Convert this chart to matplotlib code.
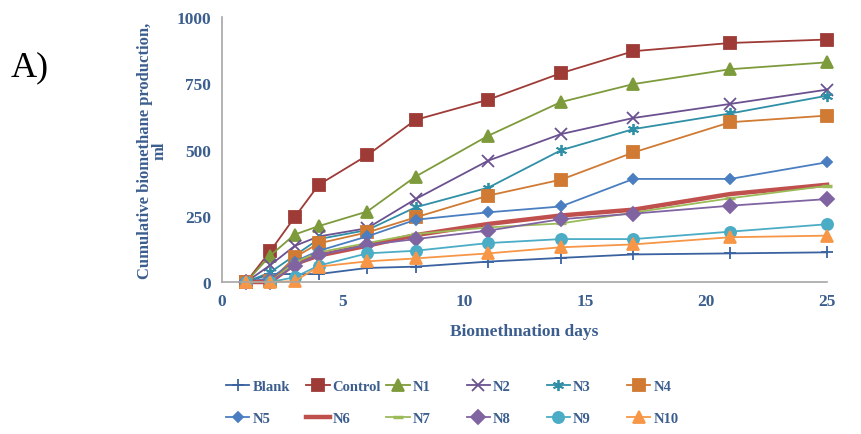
import numpy as np
import matplotlib.pyplot as plt

days = [1, 2, 3, 4, 6, 8, 11, 14, 17, 21, 25]

blank   = [0, 30, 30, 30, 53, 58, 77, 91, 104, 108, 112]
control = [0, 117, 244, 367, 478, 612, 688, 788, 871, 902, 915]
n1      = [0, 100, 179, 211, 266, 398, 552, 679, 747, 803, 829]
n2      = [0, 64, 136, 172, 203, 313, 458, 558, 619, 672, 726]
n3      = [0, 37, 100, 162, 196, 282, 356, 497, 577, 636, 703]
n4      = [0, 3, 93, 146, 187, 244, 326, 386, 489, 603, 628]
n5      = [0, 15, 77, 118, 172, 235, 263, 285, 389, 389, 452]
n6      = [0, 0, 68, 100, 137, 177, 219, 251, 273, 332, 367]
n7      = [0, 0, 74, 112, 147, 181, 206, 221, 262, 316, 363]
n8      = [0, 0, 62, 102, 140, 162, 194, 237, 258, 288, 313]
n9      = [0, 0, 18, 62, 108, 118, 147, 162, 162, 190, 218]
n10     = [0, 0, 3, 58, 78, 89, 108, 131, 142, 169, 175]

labels = ['Blank', 'Control', 'N1', 'N2', 'N3', 'N4',
          'N5', 'N6', 'N7', 'N8', 'N9', 'N10']
series = [blank, control, n1, n2, n3, n4, n5, n6, n7, n8, n9, n10]
colors = ['#3A62A0', '#9E3B37', '#7E9B3C', '#6B5190', '#2F8FA6', '#D07A33',
          '#4A7EC0', '#C0504D', '#9BBB59', '#8064A2', '#4BACC6', '#F79646']
markers = ['+', 's', '^', 'x', (6, 2, 0), 's', 'D', None, '_', 'D', 'o', '^']
msizes = [8, 8, 8, 8, 8, 8, 5, 0, 7, 7, 8, 8]
lwidths = [1.3, 1.3, 1.3, 1.3, 1.3, 1.3, 1.3, 3.2, 1.3, 1.3, 1.3, 1.3]

txt = '#3B5E8F'
plt.rcParams['font.family'] = ['Liberation Serif', 'DejaVu Serif']

fig = plt.figure(figsize=(8.62, 4.35), dpi=100)
ax = fig.add_axes([0.2575, 0.3494, 0.702, 0.6092])

handles = []
for i in range(len(series)):
    mew = 2.5 if markers[i] == '_' else 1.3
    h, = ax.plot(days, series[i], color=colors[i], marker=markers[i],
                 markersize=msizes[i], linewidth=lwidths[i], markeredgewidth=mew,
                 label=labels[i], clip_on=False)
    handles.append(h)

ax.set_xlim(0, 25)
ax.set_ylim(0, 1000)
ax.set_xticks([0, 5, 10, 15, 20, 25])
ax.set_yticks([0, 250, 500, 750, 1000])
for s in ['top', 'right']:
    ax.spines[s].set_visible(False)
for s in ['left', 'bottom']:
    ax.spines[s].set_color('#A6A6A6')
    ax.spines[s].set_linewidth(1.2)
ax.tick_params(length=0, pad=8, labelsize=12.5, labelcolor=txt)
for t in ax.get_xticklabels() + ax.get_yticklabels():
    t.set_fontweight('bold')

ax.set_xlabel('Biomethnation days', fontsize=12.5, fontweight='bold', color=txt, labelpad=10)
ax.set_ylabel('Cumulative biomethane production,\nml', fontsize=12,
              fontweight='bold', color=txt, labelpad=6, linespacing=0.9)

fig.text(0.012, 0.825, 'A)', fontsize=26, color='black')

# legend: 6 columns, 2 rows, evenly spaced like the original
for c in range(6):
    hs = [handles[c], handles[c + 6]]
    ls = [labels[c], labels[c + 6]]
    leg = fig.legend(hs, ls, loc='upper left',
                     bbox_to_anchor=((226 + 80.2 * c) / 862, 0.124),
                     frameon=False, borderpad=0, borderaxespad=0,
                     handlelength=1.6, handletextpad=0.2, labelspacing=1.3,
                     prop={'weight': 'bold', 'size': 10.5})
    for t in leg.get_texts():
        t.set_color(txt)

fig.savefig('out.png', dpi=100)
